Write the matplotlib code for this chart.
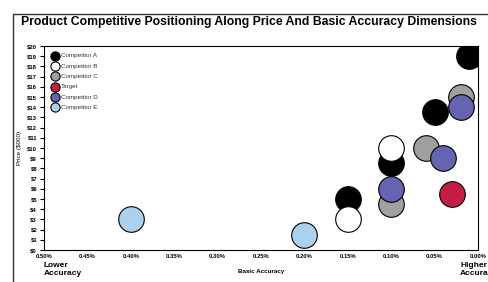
import numpy as np
import matplotlib
matplotlib.use('Agg')
import matplotlib.pyplot as plt
from matplotlib.patches import Rectangle
from matplotlib.ticker import FuncFormatter

plt.rcParams['font.family'] = ['Liberation Sans', 'DejaVu Sans']

# data: basic accuracy error (%) and price ($000)
names = ['Competitor A', 'Competitor B', 'Competitor C', 'Target', 'Competitor D', 'Competitor E']
colors = ['#000000', '#ffffff', '#a0a0a0', '#c41e45', '#6464b0', '#aad2ee']
acc_A = [0.01, 0.05, 0.10, 0.15]
price_A = [19, 13.5, 8.5, 5]
acc_B = [0.10, 0.15]
price_B = [10, 3]
acc_C = [0.02, 0.06, 0.10]
price_C = [15, 10, 4.5]
acc_T = [0.03]
price_T = [5.5]
acc_D = [0.02, 0.04, 0.10]
price_D = [14, 9, 6]
acc_E = [0.40, 0.20]
price_E = [3, 1.5]

xs = [acc_A, acc_B, acc_C, acc_T, acc_D, acc_E]
ys = [price_A, price_B, price_C, price_T, price_D, price_E]

fig = plt.figure(figsize=(4.88, 2.82), dpi=100)
ax = fig.add_axes([0.0902, 0.1135, 0.8893, 0.7234])

for x, y, c, n in zip(xs, ys, colors, names):
    ax.scatter(x, y, s=340, c=c, edgecolors='black', linewidths=0.8, label=n, zorder=3)

ax.set_xlim(0.5, 0.0)
ax.set_ylim(0, 20)
ax.set_xticks(np.arange(0, 0.501, 0.05))
ax.set_yticks(np.arange(0, 21, 1))
ax.xaxis.set_major_formatter(FuncFormatter(lambda v, p: '%.2f%%' % v))
ax.yaxis.set_major_formatter(FuncFormatter(lambda v, p: '$%d' % v))
ax.tick_params(axis='both', labelsize=4.2, length=3, width=0.8, pad=2)
ax.tick_params(axis='x', length=0, pad=3)
for lab in ax.get_xticklabels() + ax.get_yticklabels():
    lab.set_fontweight('bold')
for s in ax.spines.values():
    s.set_linewidth(0.8)

ax.set_ylabel('Price ($000)', fontsize=4.5, labelpad=4)
ax.set_xlabel('Basic Accuracy', fontsize=4.5, fontweight='bold', labelpad=7)

leg = ax.legend(loc='upper left', frameon=False, fontsize=4.5, markerscale=0.36,
                handletextpad=0.3, labelspacing=0.8, borderaxespad=0.7,
                handlelength=1.3, borderpad=0.4)
for t in leg.get_texts():
    t.set_color('#333333')

fig.text(0.043, 0.922, 'Product Competitive Positioning Along Price And Basic Accuracy Dimensions',
         fontsize=8.8, fontweight='bold', va='center')
fig.text(0.09, 0.045, 'Lower\nAccuracy', fontsize=6, fontweight='bold', va='center', linespacing=1.1)
fig.text(0.943, 0.045, 'Higher\nAccuracy', fontsize=6, fontweight='bold', va='center', linespacing=1.1)

fig.add_artist(Rectangle((0.0266, -0.2), 1.2, 1.15, transform=fig.transFigure,
                         fill=False, edgecolor='#333333', linewidth=1.0))

fig.savefig('out.png', dpi=100)
